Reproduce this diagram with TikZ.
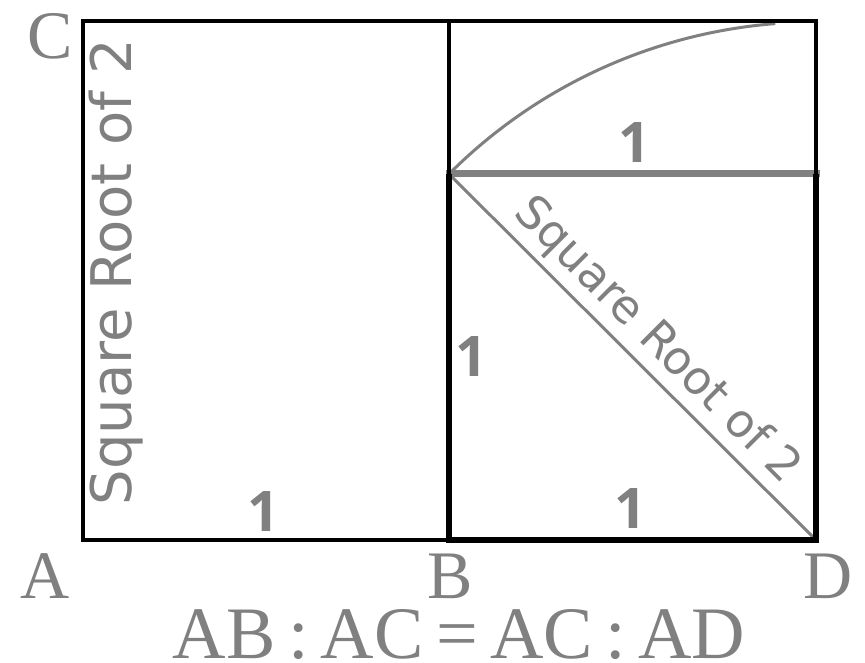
\documentclass[tikz,border=0pt]{standalone}
\usepackage{fontspec}
\setmainfont{Liberation Serif}
\newfontfamily\labsans{DejaVu Sans}
\newfontfamily\onefont{Open Sans}
\definecolor{lg}{RGB}{128,128,128}
\begin{document}
\begin{tikzpicture}[x=1pt,y=1pt,
  blk/.style={draw=black,line width=4.5pt},
  sqside/.style={draw=black,line width=5.5pt},
  gthin/.style={draw=lg,line width=3pt},
  gthick/.style={draw=lg,line width=7pt},
  pt/.style={text=lg,font=\fontsize{68}{70}\selectfont,inner sep=0pt},
  one/.style={text=lg,font=\onefont\bfseries\fontsize{56}{58}\selectfont,inner sep=0pt},
  rt/.style={text=lg,inner sep=0pt}]
\useasboundingbox (0,0) rectangle (865,662);
\fill[white] (0,0) rectangle (865,662);
% corners
\coordinate (pA) at (83,122);
\coordinate (pC) at (83,641);
\coordinate (pT) at (816,641);
\coordinate (pD) at (816,122);
\coordinate (pB) at (449,122);
\coordinate (pBT) at (449,641);
\coordinate (pE) at (449,488);
\coordinate (pF) at (816,488);
% gray construction
\draw[gthin] (pB) rectangle (pF);
\draw[gthin] (pE) -- (pD);
\draw[gthin] (pE) arc[start angle=135,end angle=94.5,radius=519pt];
\draw[gthick,line cap=rect] (pE) -- (pF);
% black frame
\draw[blk,line join=miter] (pA) rectangle (pT);
\draw[blk] (pB) -- (pBT);
\draw[sqside,line cap=rect] (pB) -- (pD);
\draw[sqside] (pB) -- (pE);
\draw[sqside] (pD) -- (pF);
% labels
\node[pt] (A) at (45,86) {A};
\node[pt] (B) at (450,86) {B};
\node[pt] (D) at (828,86) {D};
\node[pt] (C) at (50,626) {C};
\node[pt,font=\fontsize{74}{76}\selectfont,anchor=base] (eq) at (459,4) {AB\,:\,AC\,=\,AC\,:\,AD};
\node[one] (o1) at (263,150) {1};
\node[one] (o2) at (630,153) {1};
\node[one] (o3) at (471,305) {1};
\node[one] (o4) at (634,519) {1};
\node[rt,font=\labsans\fontsize{56}{58}\selectfont,rotate=90] (s1) at (116,390) {Square Root of 2};
\node[rt,font=\labsans\fontsize{46}{48}\selectfont,rotate=-45] (s2) at (657,321) {Square Root of 2};
\end{tikzpicture}
\end{document}
